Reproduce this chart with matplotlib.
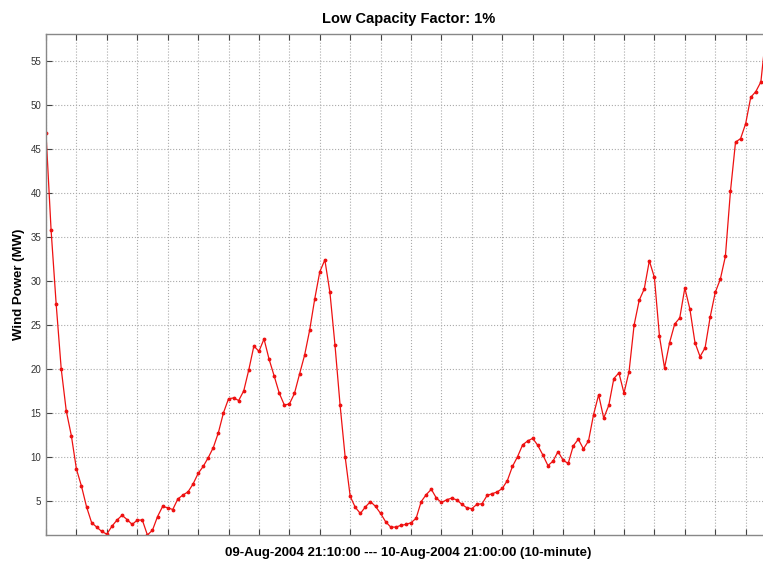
import numpy as np
import matplotlib
matplotlib.use('Agg')
import matplotlib.pyplot as plt

plt.rcParams['font.family'] = ['Liberation Sans', 'DejaVu Sans']

# 10-minute wind power, 09-Aug-2004 21:10 -> 10-Aug-2004 21:00
wind_power = [
    46.8, 35.8, 27.4, 20.0, 15.2, 12.4, 8.6, 6.65, 4.3, 2.5,
    2.0, 1.5, 1.2, 2.1, 2.8, 3.35, 2.85, 2.3, 2.8, 2.8,
    1.1, 1.65, 3.2, 4.35, 4.2, 4.0, 5.2, 5.65, 6.0, 6.9,
    8.1, 8.9, 9.9, 11.05, 12.75, 15.0, 16.6, 16.7, 16.4, 17.5,
    19.9, 22.6, 22.0, 23.4, 21.1, 19.2, 17.25, 15.9, 16.0, 17.2,
    19.4, 21.55, 24.4, 27.95, 31.05, 32.4, 28.7, 22.7, 15.9, 10.0,
    5.5, 4.25, 3.55, 4.3, 4.9, 4.35, 3.55, 2.6, 2.0, 2.0,
    2.2, 2.3, 2.5, 3.0, 4.9, 5.7, 6.3, 5.3, 4.8, 5.1,
    5.3, 5.1, 4.6, 4.2, 4.1, 4.6, 4.65, 5.6, 5.8, 6.0,
    6.4, 7.3, 8.9, 10.0, 11.35, 11.8, 12.1, 11.3, 10.2, 9.0,
    9.5, 10.6, 9.6, 9.25, 11.25, 12.0, 10.9, 11.8, 14.8, 17.05,
    14.4, 15.85, 18.9, 19.55, 17.25, 19.7, 25.0, 27.8, 29.1, 32.3,
    30.4, 23.7, 20.1, 23.0, 25.1, 25.8, 29.2, 26.8, 23.0, 21.4,
    22.4, 25.9, 28.7, 30.2, 32.8, 40.2, 45.8, 46.2, 47.9, 50.9,
    51.55, 52.65, 58.1, 57.5,
]
y_ticks = [5, 10, 15, 20, 25, 30, 35, 40, 45, 50, 55]

t = np.arange(len(wind_power))

fig = plt.figure(figsize=(7.63, 5.64), dpi=100)
# axes run a little past the right edge (the original is cropped there)
ax = fig.add_axes([0.0603, 0.0514, 0.9502, 0.8883])

ax.plot(t, wind_power, color='#ee1111', linewidth=0.9, marker='.', markersize=3.5)

ax.set_xlim(0, len(wind_power) - 1)
ax.set_ylim(min(wind_power), max(wind_power))
ax.set_xticks(np.arange(0, len(wind_power), 6))
ax.set_xticklabels([])
ax.set_yticks(y_ticks)
ax.tick_params(axis='both', direction='in', length=4, width=0.8,
               color='#444444', labelsize=7, labelcolor='#333333',
               top=True, right=True)
ax.grid(True, linestyle=':', color='#aaaaaa', linewidth=0.8)
for s in ax.spines.values():
    s.set_color('#888888')
    s.set_linewidth(1.0)

ax.set_title('Low Capacity Factor: 1%', fontsize=10.5, fontweight='bold', pad=8)
ax.set_xlabel('09-Aug-2004 21:10:00 --- 10-Aug-2004 21:00:00 (10-minute)',
              fontsize=9.5, fontweight='bold', labelpad=5)
ax.set_ylabel('Wind Power (MW)', fontsize=9.5, fontweight='bold', labelpad=4)

fig.savefig('out.png', dpi=100)
